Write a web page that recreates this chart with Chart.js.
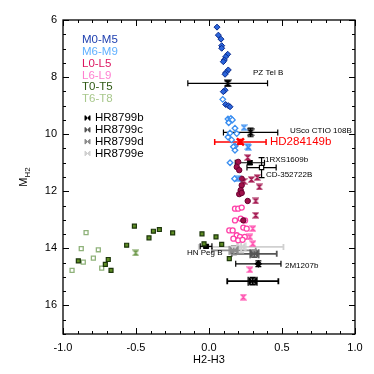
<!DOCTYPE html>
<html><head><meta charset="utf-8">
<script src="https://cdn.jsdelivr.net/npm/chart.js@4.4.1/dist/chart.umd.min.js"></script>
<style>html,body{margin:0;padding:0;background:#fff}#wrap{width:374px;height:374px}</style>
</head><body><div id="wrap"><canvas id="c" width="374" height="374"></canvas></div>
<script>
// ---- data (x = H2-H3, y = M_H2) ----
const m0m5 = [[0.055,6.25],[0.064,6.53],[0.082,6.67],[0.087,6.90],[0.087,6.99],[0.128,7.20],[0.114,7.29],[0.105,7.40],[0.098,7.46],[0.132,7.75],[0.116,7.84],[0.11,7.90],[0.11,8.46],[0.098,8.51],[0.114,8.96],[0.132,9.0],[0.144,9.04]];
const m6m9 = [[0.094,8.78],[0.13,9.47],[0.15,9.45],[0.14,9.55],[0.16,9.5],[0.135,9.6],[0.178,9.79],[0.144,9.96],[0.19,9.98],[0.13,10.1],[0.155,10.2],[0.178,10.42],[0.167,10.44],[0.178,10.56],[0.144,11.0],[0.175,11.56]];
const m6m9Hg = [[0.24,9.77],[0.267,10.44],[0.27,10.47],[0.194,11.56]];
const l0l5 = [[0.20,10.97],[0.19,11.15],[0.207,11.26],[0.224,11.56],[0.224,11.79],[0.217,11.96],[0.207,12.1],[0.224,12.06],[0.265,12.34],[0.235,13.02]];
const l0l5Hg = [[0.265,10.82],[0.24,11.65],[0.29,11.59],[0.33,11.52],[0.345,11.85],[0.32,12.34],[0.32,12.84]];
const l6l9 = [[0.178,12.61],[0.20,12.61],[0.224,12.57],[0.178,13.02],[0.217,12.96],[0.247,13.02],[0.139,13.37],[0.162,13.37],[0.235,13.27],[0.258,13.31],[0.19,13.54],[0.212,13.6],[0.245,13.6],[0.167,13.66],[0.2,13.72],[0.23,13.7]];
const l6l9Hg = [[0.30,13.31],[0.28,13.6],[0.30,13.84],[0.28,14.75],[0.235,15.71]];
const t0t5 = [[-0.511,13.22],[-0.381,13.40],[-0.34,13.34],[-0.249,13.46],[-0.411,13.63],[-0.564,13.89],[-0.895,14.44],[-0.69,14.39],[-0.71,14.56],[-0.671,14.77],[-0.048,13.49],[0.048,13.60],[-0.034,13.84],[0.087,13.86],[0.139,14.36]];
const t6t8 = [[-0.842,13.45],[-0.875,14.01],[-0.758,14.05],[-0.861,14.48],[-0.792,14.34],[-0.735,14.69],[-0.938,14.77]];
const tHg = [[-0.502,14.16]];
// named companions with error bars
const compNames = ['PZ Tel B','USco CTIO 108B','HD284149b','1RXS1609b','CD-352722B','HN Peg B','2M1207b'];
const compX    = [0.128, 0.285, 0.215, 0.28, 0.36, -0.02, 0.338];
const compY    = [8.22, 9.94, 10.27, 11.0, 11.17, 13.93, 14.54];
const compXErr = [0.273, 0.186, 0.176, 0.10, 0.10, 0.04, 0.155];
const compYErr = [0.09, 0.15, 0.08, 0.06, 0.35, 0.05, 0.10];
const hrNames = ['HR8799b','HR8799c','HR8799d','HR8799e'];
const hrX    = [0.30, 0.31, 0.17, 0.22];
const hrY    = [15.15, 14.19, 14.07, 13.95];
const hrXErr = [0.175, 0.154, 0.15, 0.29];
const hrYErr = [0.12, 0.12, 0.15, 0.2];
const legendLabels = ['M0-M5','M6-M9','L0-L5','L6-L9','T0-T5','T6-T8'];
const xTicks = [-1.0,-0.5,0.0,0.5,1.0];
const yTicks = [6,8,10,12,14,16];

// ---- styles ----
const legendColors = ['#1f40b0','#5fb0ff','#dc1660','#ff7fd0','#2f5a14','#a8c88c'];
const hrColors = ['#000000','#555555','#8c8c8c','#d0d0d0'];
const compColors = ['#000','#000','#ff0000','#000','#000','#000','#000'];
const FONT = '"Liberation Sans", Arial, sans-serif';

function hourglass(color, r, fill){
  const c=document.createElement('canvas'); const s=Math.ceil(r*2+2); c.width=c.height=s;
  const g=c.getContext('2d'); const l=1,t=1,rr=s-1,b=s-1;
  g.beginPath(); g.moveTo(l,t); g.lineTo(rr,t); g.lineTo(l,b); g.lineTo(rr,b); g.closePath();
  g.fillStyle=fill||color; g.fill(); g.strokeStyle=color; g.lineWidth=1.1; g.stroke(); return c;
}
function bowtie(color, r){
  const c=document.createElement('canvas'); const s=Math.ceil(r*2+2); c.width=c.height=s;
  const g=c.getContext('2d'); const l=1,t=1,rr=s-1,b=s-1;
  g.beginPath(); g.moveTo(l,t); g.lineTo(l,b); g.lineTo(rr,t); g.lineTo(rr,b); g.closePath();
  g.fillStyle=color; g.fill(); g.strokeStyle=color; g.lineWidth=1; g.stroke(); return c;
}
const pts = a => a.map(p=>({x:p[0],y:p[1]}));

const compStyles = [hourglass('#000',2.8),hourglass('#000',2.8),'crossRot','rect','rect','rect','rectRot'];
const datasets = [
  {data:pts(m0m5), pointStyle:'rectRot', pointRadius:3, backgroundColor:'#2b66dc', borderColor:'#0a2a8c', borderWidth:1},
  {data:pts(m6m9), pointStyle:'rectRot', pointRadius:2.8, backgroundColor:'#ffffff', borderColor:'#3a8ef0', borderWidth:1.3},
  {data:pts(m6m9Hg), pointStyle:hourglass('#3a8ef0',2.5,'#a8d0ff'), pointRadius:3},
  {data:pts(l0l5), pointStyle:'circle', pointRadius:2.7, backgroundColor:'#a0104a', borderColor:'#6a0030', borderWidth:1},
  {data:pts(l0l5Hg), pointStyle:hourglass('#a0104a',2.5,'#c04070'), pointRadius:3},
  {data:pts(l6l9), pointStyle:'circle', pointRadius:2.5, backgroundColor:'#ffffff', borderColor:'#ff40a8', borderWidth:1.3},
  {data:pts(l6l9Hg), pointStyle:hourglass('#ff40a8',2.5,'#ffb0dc'), pointRadius:3},
  {data:pts(t0t5), pointStyle:'rect', pointRadius:2.8, backgroundColor:'#5e8c24', borderColor:'#1c360a', borderWidth:1.2},
  {data:pts(t6t8), pointStyle:'rect', pointRadius:2.8, backgroundColor:'#ffffff', borderColor:'#8fb27a', borderWidth:1.3},
  {data:pts(tHg), pointStyle:hourglass('#6f9a4c',2.5), pointRadius:3},
];
hrNames.forEach((n,i)=>datasets.push({data:[{x:hrX[i],y:hrY[i]}], errX:[hrXErr[i]], errY:[hrYErr[i]], errColor:hrColors[i], errWidth:1.8,
  pointStyle:bowtie(hrColors[i],4.5), pointRadius:5}));
compNames.forEach((n,i)=>datasets.push({data:[{x:compX[i],y:compY[i]}], errX:[compXErr[i]], errY:[compYErr[i]], errColor:compColors[i], errWidth:i===2?1.5:1.2,
  pointStyle:compStyles[i], pointRadius:i===2?5:3, backgroundColor:i===4?'#fff':compColors[i], borderColor:compColors[i], borderWidth:i===2?2.5:1.2}));

const errorBars = {
  id:'errorBars',
  beforeDatasetsDraw(chart){
    const {ctx, scales:{x,y}} = chart;
    chart.data.datasets.forEach(ds=>{
      if(!ds.errX) return;
      ctx.save(); ctx.strokeStyle=ds.errColor; ctx.lineWidth=ds.errWidth;
      ds.data.forEach((p,i)=>{
        const px=x.getPixelForValue(p.x), py=y.getPixelForValue(p.y);
        const x0=x.getPixelForValue(p.x-ds.errX[i]), x1=x.getPixelForValue(p.x+ds.errX[i]);
        const y0=y.getPixelForValue(p.y-ds.errY[i]), y1=y.getPixelForValue(p.y+ds.errY[i]);
        ctx.beginPath();
        ctx.moveTo(x0,py); ctx.lineTo(x1,py);
        ctx.moveTo(x0,py-3); ctx.lineTo(x0,py+3); ctx.moveTo(x1,py-3); ctx.lineTo(x1,py+3);
        ctx.moveTo(px,y0); ctx.lineTo(px,y1);
        ctx.moveTo(px-3,y0); ctx.lineTo(px+3,y0); ctx.moveTo(px-3,y1); ctx.lineTo(px+3,y1);
        ctx.stroke();
      });
      ctx.restore();
    });
  }
};

const frame = {
  id:'frame',
  afterDraw(chart){
    const {ctx, chartArea:a, scales:{x,y}} = chart;
    ctx.save();
    ctx.strokeStyle='#000'; ctx.lineWidth=1.3;
    ctx.strokeRect(a.left,a.top,a.right-a.left,a.bottom-a.top);
    ctx.lineWidth=1;
    ctx.beginPath();
    for(let k=-10;k<=10;k++){
      const v=k/10, px=Math.round(x.getPixelForValue(v))+0.5, L=(k%5===0)?6:3;
      ctx.moveTo(px,a.bottom); ctx.lineTo(px,a.bottom-L);
      ctx.moveTo(px,a.top); ctx.lineTo(px,a.top+L);
    }
    for(let k=12;k<=34;k++){
      const v=k/2, py=Math.round(y.getPixelForValue(v))+0.5, L=(k%4===0)?6:3;
      ctx.moveTo(a.left,py); ctx.lineTo(a.left+L,py);
      ctx.moveTo(a.right,py); ctx.lineTo(a.right-L,py);
    }
    ctx.stroke();
    // axis titles
    ctx.fillStyle='#000'; ctx.font='11px '+FONT;
    ctx.textAlign='center'; ctx.textBaseline='alphabetic';
    ctx.fillText('H2-H3', x.getPixelForValue(0), 363);
    ctx.save(); ctx.translate(27,(a.top+a.bottom)/2); ctx.rotate(-Math.PI/2);
    ctx.textAlign='left';
    const mW=ctx.measureText('M').width;
    ctx.font='8px '+FONT;
    const sW=ctx.measureText('H2').width;
    const start=-(mW+sW)/2;
    ctx.font='11px '+FONT; ctx.fillText('M',start,0);
    ctx.font='8px '+FONT; ctx.fillText('H2',start+mW,3);
    ctx.restore();
    // legend
    ctx.textAlign='left'; ctx.textBaseline='middle';
    ctx.font='11.5px '+FONT;
    legendLabels.forEach((t,i)=>{ctx.fillStyle=legendColors[i]; ctx.fillText(t,82,40+i*11.8);});
    hrNames.forEach((t,i)=>{
      ctx.fillStyle='#000'; ctx.fillText(t,95,118+i*11.8);
      ctx.drawImage(bowtie(hrColors[i],2.2),84,118+i*11.8-3.5);
    });
    // companion labels
    ctx.font='8px '+FONT; ctx.fillStyle='#000';
    ctx.fillText('PZ Tel B',253,73);
    ctx.fillText('USco CTIO 108B',290,131);
    ctx.fillText('1RXS1609b',265,160);
    ctx.fillText('CD-352722B',266,175);
    ctx.fillText('HN Peg B',187,253);
    ctx.fillText('2M1207b',285,266);
    ctx.font='11.5px '+FONT; ctx.fillStyle='#ff0000';
    ctx.fillText('HD284149b',270,142);
    ctx.restore();
  }
};

new Chart(document.getElementById('c'), {
  type:'scatter',
  data:{datasets},
  options:{
    responsive:false, animation:false, devicePixelRatio:1,
    layout:{padding:{top:20,right:19,left:0,bottom:0}},
    plugins:{legend:{display:false}, tooltip:{enabled:false}},
    scales:{
      x:{type:'linear', min:-1, max:1, grid:{display:false, drawTicks:false}, border:{display:false},
         afterBuildTicks:s=>{s.ticks=xTicks.map(v=>({value:v}));},
         afterFit:s=>{s.height=40;},
         ticks:{color:'#000', padding:7, maxRotation:0, font:{family:FONT, size:11}, callback:v=>Number(v).toFixed(1)}},
      y:{type:'linear', min:6, max:17, reverse:true, grid:{display:false, drawTicks:false}, border:{display:false},
         afterBuildTicks:s=>{s.ticks=yTicks.map(v=>({value:v}));},
         afterFit:s=>{s.width=63;},
         ticks:{color:'#000', padding:6, font:{family:FONT, size:11}}}
    }
  },
  plugins:[errorBars, frame]
});
</script></body></html>
